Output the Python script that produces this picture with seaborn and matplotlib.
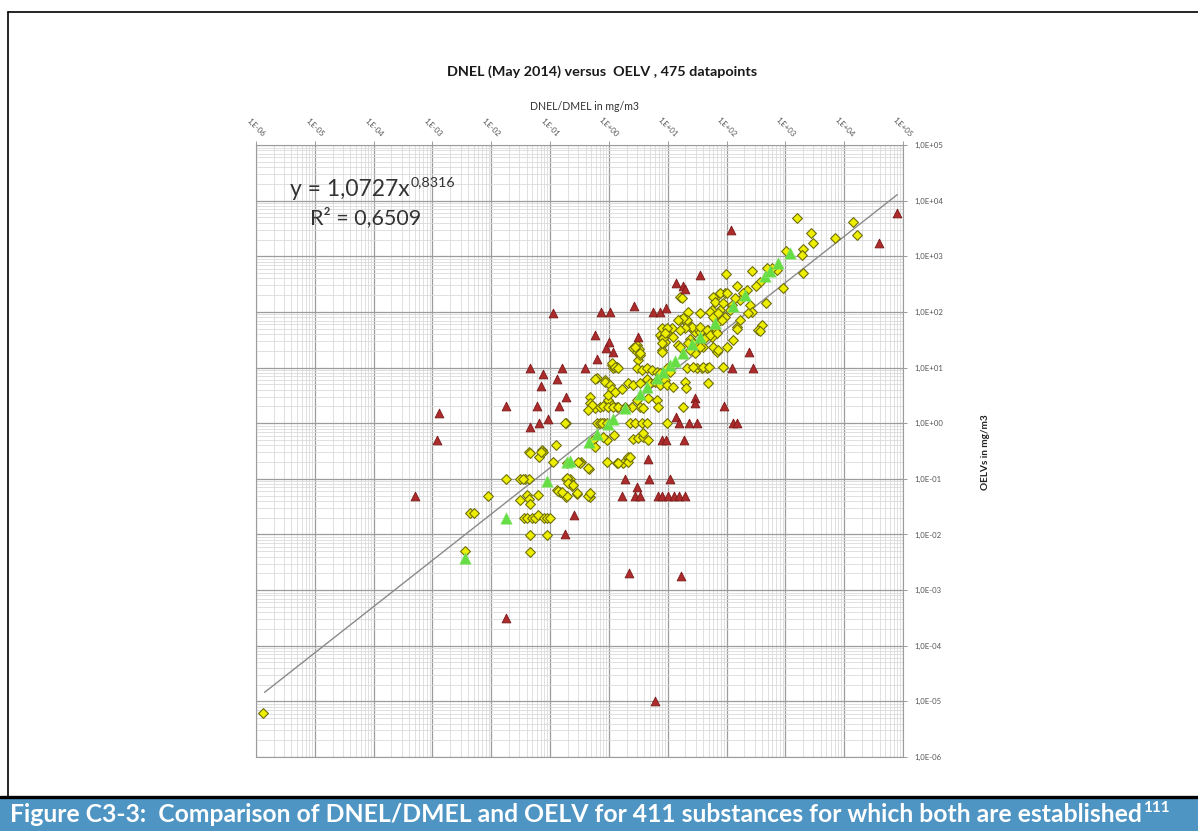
import numpy as np
import pandas as pd
import matplotlib
matplotlib.use("Agg")
import matplotlib.pyplot as plt
import seaborn as sns
from matplotlib.ticker import FixedLocator, FixedFormatter, LogLocator, NullFormatter
from matplotlib.patches import Rectangle
from matplotlib.lines import Line2D

# ---------------- data (mg/m3) ----------------
# yellow diamonds: DNEL vs OELV
yellow_dnel = [
    1.3e-6, 3.6e-3, 4.3e-3, 5.1e-3, 8.8e-3, 0.0177, 0.0306, 0.0373, 0.0436, 0.0345,
    0.0306, 0.0403, 0.0436, 0.0453, 0.062, 0.0436, 0.0726, 0.0645, 0.0755, 0.0698, 0.0453,
    0.126, 0.112, 0.186, 0.217, 0.226, 0.235, 0.334, 0.457, 0.92, 1.22, 0.92,
    0.13, 0.147, 0.186, 0.286, 0.475, 0.0358, 0.0403, 0.049, 0.0551, 0.062, 0.0785, 0.0883, 0.0993,
    0.0453, 0.0883, 0.0453, 0.193, 0.321, 1.37, 1.73, 2.1, 0.209, 0.136, 0.193, 0.44,
    0.297, 1.42, 2.1, 2.28, 0.44, 0.193, 0.2, 0.244, 0.286, 0.475, 0.159,
    0.625, 0.855, 0.475, 0.475, 0.578, 0.96, 1.12, 1.37, 1.87, 1.17, 1.37, 1.12,
    0.186, 0.625, 0.703, 0.822, 3.11, 2.56, 2.99, 3.37, 8.0, 7.37, 8.0, 8.96, 11.8, 16.1, 22, 16.1,
    21.2, 23.9, 29, 32.6, 46.4, 56.5, 63.5, 68.7, 56.5, 23.9, 26.8, 31.4, 39.7, 68.7,
    8.0, 9.69, 8.28, 12.3, 14.9, 8.0, 2.99, 3.24, 3.37, 2.77,
    1.12, 1.26, 1.42, 2.99, 3.64, 4.43, 5.38, 6.55, 7.37, 9.69, 10.9, 21.2, 31.4, 38.2, 46.4,
    0.578, 0.855, 1.04, 1.12, 1.26, 0.96, 1.66, 2.1, 2.56, 3.37, 4.43, 4.98, 6.06, 7.37, 8.96, 9.69, 12.3, 19.6, 20.4, 48.3,
    4.6, 6.55, 6.8, 2.99, 3.37, 3.79, 2.46, 18.1, 0.514, 0.44, 0.703, 0.79, 0.96, 1.17, 1.42, 1.87,
    0.179, 0.76, 0.92, 2.28, 2.77, 3.64, 4.43, 9.69, 0.535, 0.578, 0.79, 2.56, 3.11, 3.79, 4.6, 3.79,
    1575, 2720, 2950, 1990, 1920, 1990, 910, 1024, 720, 592, 487, 270, 370, 316, 222, 150, 190, 169, 139, 98,
    94, 71.4, 58.7, 63.5, 86.9, 124, 114, 77.3, 56.5, 68.7, 94, 83.6, 250, 270, 231, 468, 169, 150, 400, 342,
    63.5, 48.3, 35.3, 25.8, 21.2, 19.6, 18.1, 43, 35.3, 29, 23.9, 128, 102, 17.4, 26.8, 39.7, 86.9, 6980, 14100, 16500, 370, 150,
    35.3, 77, 102, 52, 58.7, 71.4, 35.3, 46.4, 52, 68.7, 16.1, 14.9, 9.69, 8.96, 8.0, 16.1, 22, 58.7, 71.4, 50,
]
yellow_oelv = [
    6.1e-6, 5.0e-3, 0.024, 0.024, 0.05, 0.1, 0.1, 0.1, 0.1, 0.1,
    0.041, 0.051, 0.043, 0.036, 0.051, 0.30, 0.33, 0.244, 0.30, 0.30, 0.29,
    0.40, 0.2, 0.1, 0.1, 0.083, 0.074, 0.2, 0.149, 0.2, 0.61, 0.49,
    0.062, 0.057, 0.047, 0.053, 0.047, 0.02, 0.02, 0.02, 0.02, 0.022, 0.02, 0.02, 0.02,
    0.0097, 0.0097, 0.0048, 0.19, 0.19, 0.19, 0.19, 0.244, 0.087, 0.06, 0.049, 0.049,
    0.2, 0.19, 0.2, 0.244, 0.155, 0.103, 0.083, 0.077, 0.055, 0.055, 0.057,
    6.45, 5.9, 2.94, 2.29, 1.86, 2.59, 2.1, 1.94, 1.94, 9.75, 10.2, 11,
    1.0, 1.0, 1.0, 1.0, 13.6, 22.3, 18.9, 16.7, 20.6, 38.3, 33.8, 28.6, 51, 71, 99, 185,
    63, 53, 43, 49, 43, 95, 77, 63, 35, 32.4, 27.5, 23.3, 23.3, 18.9,
    51, 41.6, 33.8, 35, 25.3, 18.9, 25.3, 21.4, 18.2, 23.3,
    12, 10.2, 10, 10, 9.0, 10, 9.0, 8.3, 8.1, 10, 8.3, 10, 10, 10, 10,
    6.2, 5.5, 4.8, 4.1, 3.6, 3.2, 4.1, 5.2, 4.8, 5.2, 6.2, 5.2, 5.5, 4.8, 5.9, 4.8, 4.4, 5.5, 4.3, 5.2,
    2.8, 2.6, 1.94, 2.6, 1.94, 1.86, 1.94, 1.94, 2.1, 1.71, 1.94, 2.0, 1.94, 1.94, 1.94, 1.86,
    1.0, 1.0, 1.0, 1.0, 1.0, 1.0, 1.0, 1.0, 0.49, 0.37, 0.56, 0.515, 0.54, 0.56, 0.49, 0.66,
    4860, 2610, 1730, 1350, 1050, 499, 268, 1240, 565, 614, 614, 542, 344, 291, 247, 291, 218, 163, 177, 479,
    218, 200, 185, 150, 144, 133, 108, 108, 108, 88, 81, 71, 133, 99, 95, 144, 71, 53, 58, 47,
    47, 47, 43, 53, 71, 51, 77, 33.8, 23.3, 18.2, 20.6, 31, 23.3, 177, 10.2, 10.2, 10.2, 2120, 4120, 2400, 45, 49,
    95, 218, 218, 99, 81, 95, 53, 47, 38, 41.6, 47, 71, 51, 41.6, 27.5, 23.3, 27.5, 23.3, 20.6, 10.2,
]

# dark red triangles
red_dnel = [
    1.3e-3, 1.2e-3, 5e-4, 1.8e-2, 6.0, 0.11, 0.045, 0.16, 0.39, 0.075, 0.13, 0.07, 0.19, 0.018, 0.06, 0.14, 0.092, 0.045, 0.065,
    0.58, 1.0, 0.89, 1.17, 0.63, 0.73, 1.04, 2.7, 5.6, 7.4, 9.3, 3.1, 29, 29, 14, 15.5, 23, 31, 90, 130, 150,
    8.0, 9.3, 19, 4.6, 1.9, 4.8, 11, 3.0, 1.7, 2.8, 3.4, 6.8, 8.0, 10, 12.7, 15.5, 20, 2.2, 17, 0.26, 0.18,
    120, 35, 14, 18, 20, 240, 280, 124, 39000, 79000,
]
red_oelv = [
    1.5, 0.5, 0.05, 3.2e-4, 1.0e-5, 95, 10, 10, 10, 7.6, 6.2, 4.6, 2.9, 2.0, 2.0, 2.0, 1.2, 0.85, 1.0,
    38, 29, 22, 19, 14, 100, 100, 130, 100, 100, 120, 35, 2.8, 2.3, 1.3, 1.0, 1.0, 1.0, 2.0, 1.0, 1.0,
    0.5, 0.5, 0.5, 0.23, 0.1, 0.1, 0.1, 0.07, 0.05, 0.05, 0.05, 0.05, 0.05, 0.05, 0.05, 0.05, 0.05, 0.002, 0.0018, 0.022, 0.01,
    3000, 460, 330, 290, 260, 19, 10, 10, 1700, 6000,
]

# light green triangles (DNEL equal to OELV)
green_dnel = [3.6e-3, 0.0177, 0.088, 0.193, 0.217, 0.457, 0.625, 0.96, 1.17, 1.87, 3.37, 4.43, 6.55,
              8.3, 10.9, 13.3, 18.1, 25.8, 35.3, 63.5, 128, 205, 450, 547, 748, 1200]
green_oelv = [3.7e-3, 0.0195, 0.09, 0.2, 0.21, 0.46, 0.63, 0.95, 1.2, 1.9, 3.4, 4.4, 6.5,
              8.2, 11, 13, 18, 26, 35, 63, 128, 200, 450, 550, 750, 1150]

# power trendline y = a * x^b
trend_a = 1.0727
trend_b = 0.8316
trend_x_range = [1.4e-6, 8.0e4]

x_tick_values = [1e-6, 1e-5, 1e-4, 1e-3, 1e-2, 1e-1, 1e0, 1e1, 1e2, 1e3, 1e4, 1e5]
x_tick_labels = ["1,E-06", "1,E-05", "1,E-04", "1,E-03", "1,E-02", "1,E-01",
                 "1,E+00", "1,E+01", "1,E+02", "1,E+03", "1,E+04", "1,E+05"]
y_tick_values = x_tick_values
y_tick_labels = ["1,0E-06", "1,0E-05", "1,0E-04", "1,0E-03", "1,0E-02", "1,0E-01",
                 "1,0E+00", "1,0E+01", "1,0E+02", "1,0E+03", "1,0E+04", "1,0E+05"]

title_text = "DNEL (May 2014) versus  OELV , 475 datapoints"
xlabel_text = "DNEL/DMEL in mg/m3"
ylabel_text = "OELVs in mg/m3"
eq_main = "y = 1,0727x"
eq_sup = "0,8316"
r2_text = "R\u00b2 = 0,6509"
caption_text = "Figure C3-3:  Comparison of DNEL/DMEL and OELV for 411 substances for which both are established"
caption_sup = "111"

# ---------------- style ----------------
sns.set_theme(style="white")
plt.rcParams["font.family"] = ["Lato", "DejaVu Sans"]

W, H = 1198, 831
fig = plt.figure(figsize=(W / 100, H / 100), dpi=100)
fig.patch.set_facecolor("white")

def fx(px):
    return px / W

def fy(py):
    return 1 - py / H

ax_l, ax_r, ax_t, ax_b = 256, 903, 145, 757
ax = fig.add_axes([fx(ax_l), fy(ax_b), (ax_r - ax_l) / W, (ax_b - ax_t) / H])
ax.set_facecolor("white")

df_y = pd.DataFrame({"DNEL": yellow_dnel, "OELV": yellow_oelv})
df_r = pd.DataFrame({"DNEL": red_dnel, "OELV": red_oelv})
df_g = pd.DataFrame({"DNEL": green_dnel, "OELV": green_oelv})

sns.scatterplot(data=df_y, x="DNEL", y="OELV", marker="D", s=25, color="#eeee00",
                edgecolor="#6f6f10", linewidth=0.8, ax=ax, zorder=3, legend=False)
sns.scatterplot(data=df_r, x="DNEL", y="OELV", marker="^", s=40, color="#ad2b2b",
                edgecolor="#7a1a1a", linewidth=0.6, ax=ax, zorder=4, legend=False)
sns.scatterplot(data=df_g, x="DNEL", y="OELV", marker="^", s=68, color="#66dd44",
                edgecolor="#88e86a", linewidth=0.4, ax=ax, zorder=5, legend=False)

tx = np.array(trend_x_range)
sns.lineplot(x=tx, y=trend_a * tx ** trend_b, color="#8a8a8a", linewidth=1.0, ax=ax, zorder=2)

ax.set_xscale("log")
ax.set_yscale("log")
ax.set_xlim(1e-6, 1e5)
ax.set_ylim(1e-6, 1e5)

ax.xaxis.set_major_locator(FixedLocator(x_tick_values))
ax.xaxis.set_major_formatter(FixedFormatter(x_tick_labels))
ax.yaxis.set_major_locator(FixedLocator(y_tick_values))
ax.yaxis.set_major_formatter(FixedFormatter(y_tick_labels))
ax.xaxis.set_minor_locator(LogLocator(base=10, subs=np.arange(2, 10), numticks=200))
ax.yaxis.set_minor_locator(LogLocator(base=10, subs=np.arange(2, 10), numticks=200))
ax.xaxis.set_minor_formatter(NullFormatter())
ax.yaxis.set_minor_formatter(NullFormatter())

ax.grid(which="major", color="#9c9c9c", linewidth=0.9)
ax.grid(which="minor", color="#dadada", linewidth=0.6)
ax.set_axisbelow(True)

ax.xaxis.tick_top()
ax.yaxis.tick_right()
ax.tick_params(axis="both", which="major", length=3, width=0.6, color="#8c8c8c",
               labelsize=5.6, labelcolor="#555555", pad=2)
ax.tick_params(axis="y", which="major", pad=5)
ax.tick_params(axis="both", which="minor", length=0)
for lab in ax.get_xticklabels():
    lab.set_rotation(-45)
    lab.set_ha("center")
    lab.set_va("bottom")

for sp in ax.spines.values():
    sp.set_color("#9c9c9c")
    sp.set_linewidth(0.8)

ax.set_xlabel(xlabel_text, fontsize=7.6, color="#333333")
ax.xaxis.set_label_position("top")
ax.xaxis.set_label_coords((584 - ax_l) / (ax_r - ax_l), (ax_b - 106) / (ax_b - ax_t))
ax.xaxis.label.set_va("center")
ax.set_ylabel(ylabel_text, fontsize=7.2, color="#222222", fontweight="bold", rotation=90)
ax.yaxis.set_label_position("right")
ax.yaxis.set_label_coords((985 - ax_l) / (ax_r - ax_l), (ax_b - 452) / (ax_b - ax_t))
ax.yaxis.label.set_va("center")

renderer = fig.canvas.get_renderer()

def fit_width(t, target):
    bb = t.get_window_extent(renderer)
    t.set_fontsize(t.get_fontsize() * target / bb.width)
    return t

# title
t_title = fig.text(fx(602), fy(72), title_text, ha="center", va="center",
                   fontsize=10, fontweight="bold", color="#1a1a1a")
fit_width(t_title, 311)

# trendline equation
t_eq = fig.text(fx(290), fy(190), eq_main, ha="left", va="center", fontsize=14, color="#333333")
fit_width(t_eq, 120)
bb = t_eq.get_window_extent(renderer)
fig.text(bb.x1 / W + 1 / W, fy(182), eq_sup, ha="left", va="center",
         fontsize=t_eq.get_fontsize() * 0.62, color="#333333")
t_r2 = fig.text(fx(310), fy(218), r2_text, ha="left", va="center", fontsize=14, color="#333333")
fit_width(t_r2, 112)

# frame border
fig.add_artist(Line2D([fx(8), 1.0], [fy(12), fy(12)], color="black", linewidth=1.2))
fig.add_artist(Line2D([fx(8), fx(8)], [fy(12), fy(797)], color="black", linewidth=1.2))

# caption bar
fig.add_artist(Rectangle((0, 0), 1, fy(798), transform=fig.transFigure,
                         facecolor="#4e95c3", edgecolor="none"))
fig.add_artist(Line2D([0, 1], [fy(797), fy(797)], color="black", linewidth=2.4))
t_cap = fig.text(fx(10), fy(815), caption_text, ha="left", va="center",
                 fontsize=16, fontweight="bold", color="white")
fit_width(t_cap, 1136)
bb = t_cap.get_window_extent(renderer)
fig.text(bb.x1 / W + 1 / W, fy(808), caption_sup, ha="left", va="center",
         fontsize=t_cap.get_fontsize() * 0.62, fontweight="bold", color="white")

fig.savefig("out.png", dpi=100, facecolor="white")
